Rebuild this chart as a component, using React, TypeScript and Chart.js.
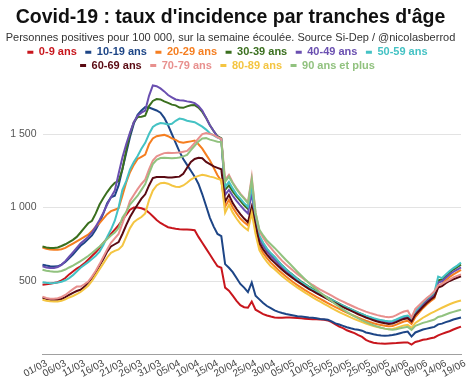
import { useEffect, useRef } from 'react';
import { Chart, registerables } from 'chart.js';

Chart.register(...registerables);

const DAYS = [
  '01/03','02/03','03/03','04/03','05/03','06/03','07/03','08/03','09/03','10/03',
  '11/03','12/03','13/03','14/03','15/03','16/03','17/03','18/03','19/03','20/03',
  '21/03','22/03','23/03','24/03','25/03','26/03','27/03','28/03','29/03','30/03','31/03',
  '01/04','02/04','03/04','04/04','05/04','06/04','07/04','08/04','09/04','10/04',
  '11/04','12/04','13/04','14/04','15/04','16/04','17/04','18/04','19/04','20/04',
  '21/04','22/04','23/04','24/04','25/04','26/04','27/04','28/04','29/04','30/04',
  '01/05','02/05','03/05','04/05','05/05','06/05','07/05','08/05','09/05','10/05',
  '11/05','12/05','13/05','14/05','15/05','16/05','17/05','18/05','19/05','20/05',
  '21/05','22/05','23/05','24/05','25/05','26/05','27/05','28/05','29/05','30/05','31/05',
  '01/06','02/06','03/06','04/06','05/06','06/06','07/06','08/06','09/06','10/06',
  '11/06','12/06','13/06','14/06','15/06','16/06','17/06','18/06','19/06',
];

const SERIES_NAMES = [
  '0-9 ans', '10-19 ans', '20-29 ans', '30-39 ans', '40-49 ans',
  '50-59 ans', '60-69 ans', '70-79 ans', '80-89 ans', '90 ans et plus',
];

const COLORS = [
  '#c8161d', '#1d4586', '#f57e20', '#3a6f1e', '#6a4fb0',
  '#44c2c4', '#5a0a12', '#e8908e', '#f4c542', '#91c27f',
];

const AGE_0_9 = [
  475, 478, 482, 487, 492, 505, 520, 545, 565, 585, 600,
  620, 645, 670, 695, 725, 760, 790, 820, 850, 880,
  915, 950, 985, 1000, 1000, 995, 985, 965, 940, 915,
  895, 880, 866, 860, 855, 852, 850, 850, 848, 845,
  800, 760, 720, 680, 640, 600, 590, 455, 434, 400,
  365, 335, 322, 318, 360, 305, 290, 275, 265, 258,
  252, 250, 250, 251, 252, 250, 248, 246, 244, 242,
  240, 240, 238, 236, 232, 220, 205, 190, 180, 165,
  155, 145, 132, 120, 100, 88, 80, 76, 74, 73,
  75, 77, 78, 80, 82, 82, 68, 85, 92, 100,
  104, 110, 116, 130, 140, 150, 158, 170, 180, 190,
];

const AGE_10_19 = [
  611, 605, 600, 598, 600, 612, 630, 655, 680, 710, 740,
  760, 785, 810, 850, 900, 960, 1030, 1070, 1080, 1150,
  1260, 1370, 1480, 1570, 1630, 1660, 1684, 1680, 1670, 1660,
  1645, 1610, 1560, 1500, 1440, 1380, 1330, 1290, 1250, 1210,
  1160, 1090, 1010, 930, 870, 820, 805, 615, 590, 560,
  520, 480, 455, 425, 490, 400, 375, 350, 330, 315,
  300, 290, 282, 275, 270, 265, 260, 258, 255, 252,
  250, 246, 242, 240, 236, 225, 212, 204, 195, 185,
  178, 172, 168, 162, 150, 145, 138, 133, 130, 128,
  129, 132, 138, 145, 152, 156, 122, 150, 160, 170,
  176, 182, 188, 205, 210, 220, 228, 238, 245, 252,
];

const AGE_20_29 = [
  728, 720, 714, 712, 713, 716, 725, 740, 755, 770, 785,
  800, 815, 840, 870, 895, 925, 955, 975, 985, 995,
  1080, 1170, 1240, 1290, 1330, 1345, 1360, 1430, 1470, 1485,
  1490, 1494, 1485, 1470, 1460, 1445, 1440, 1445, 1450, 1455,
  1430, 1400, 1360, 1320, 1270, 1220, 1180, 1005, 1052, 1000,
  960, 925, 900, 880, 984, 850, 735, 690, 655, 625,
  600, 575, 552, 530, 510, 490, 472, 455, 438, 422,
  407, 392, 378, 364, 350, 336, 323, 310, 297, 285,
  273, 262, 251, 240, 230, 221, 213, 206, 200, 195,
  192, 194, 203, 214, 224, 229, 208, 255, 285, 315,
  340, 362, 382, 470, 480, 505, 528, 545, 560, 575,
];

const AGE_30_39 = [
  735, 728, 725, 725, 728, 738, 750, 765, 780, 800, 830,
  862, 893, 910, 960, 1020, 1065, 1105, 1140, 1168, 1180,
  1260, 1390, 1500, 1580, 1615, 1618, 1625, 1690, 1725, 1738,
  1735, 1722, 1712, 1700, 1695, 1680, 1678, 1688, 1695, 1697,
  1680, 1650, 1610, 1560, 1520, 1485, 1470, 1120, 1150, 1110,
  1075, 1045, 1015, 990, 1130, 920, 800, 755, 715, 685,
  660, 632, 605, 580, 558, 537, 516, 497, 479, 462,
  446, 431, 416, 401, 387, 373, 359, 346, 333, 320,
  308, 296, 285, 274, 263, 253, 244, 236, 229, 223,
  219, 220, 230, 242, 252, 257, 235, 285, 315, 345,
  370, 390, 410, 505, 510, 535, 558, 578, 595, 611,
];

const AGE_40_49 = [
  600, 592, 588, 588, 595, 610, 635, 665, 695, 725, 755,
  778, 800, 830, 870, 915, 965, 1020, 1070, 1115, 1230,
  1340, 1430, 1510, 1580, 1625, 1645, 1660, 1760, 1830, 1825,
  1810, 1790, 1765, 1750, 1735, 1730, 1728, 1722, 1718, 1710,
  1690, 1660, 1610, 1560, 1520, 1480, 1465, 1086, 1120, 1080,
  1045, 1015, 985, 960, 1100, 900, 785, 740, 702, 672,
  645, 618, 592, 568, 546, 525, 505, 486, 468, 452,
  436, 421, 406, 392, 378, 364, 351, 338, 326, 314,
  302, 291, 280, 269, 259, 249, 240, 232, 225, 219,
  215, 217, 227, 239, 249, 254, 232, 280, 308, 337,
  362, 382, 402, 490, 498, 522, 545, 563, 578, 592,
];

const AGE_50_59 = [
  492, 488, 485, 487, 490, 495, 505, 520, 540, 565, 590,
  610, 628, 650, 672, 700, 745, 800, 850, 910, 1000,
  1120, 1180, 1260, 1310, 1350, 1400, 1440, 1500, 1548, 1565,
  1575, 1572, 1565, 1570, 1590, 1605, 1600, 1590, 1585, 1580,
  1565, 1550, 1530, 1505, 1490, 1475, 1465, 1140, 1175, 1130,
  1090, 1060, 1030, 1005, 1141, 920, 810, 760, 720, 690,
  665, 635, 605, 580, 557, 535, 513, 493, 475, 458,
  442, 427, 413, 398, 385, 372, 358, 345, 333, 320,
  308, 296, 285, 274, 264, 255, 247, 240, 234, 229,
  226, 228, 238, 250, 260, 265, 245, 295, 325, 355,
  380, 400, 420, 530, 520, 545, 568, 588, 605, 625,
];

const AGE_60_69 = [
  387, 378, 373, 372, 373, 378, 390, 405, 420, 432, 440,
  460, 490, 520, 560, 605, 650, 700, 735, 750, 765,
  820, 880, 935, 980, 1020, 1060, 1090, 1150, 1200, 1208,
  1208, 1208, 1205, 1205, 1208, 1210, 1230, 1270, 1310, 1330,
  1338, 1335, 1310, 1295, 1280, 1270, 1260, 1040, 1086, 1030,
  990, 955, 925, 900, 1005, 880, 760, 715, 680, 650,
  625, 600, 577, 555, 535, 515, 497, 480, 463, 447,
  432, 418, 404, 390, 376, 362, 349, 336, 323, 310,
  298, 286, 274, 263, 252, 242, 233, 225, 218, 212,
  208, 210, 220, 232, 242, 247, 225, 270, 297, 325,
  350, 372, 392, 455, 465, 485, 500, 512, 522, 532,
];

const AGE_70_79 = [
  394, 385, 380, 380, 383, 392, 405, 425, 445, 462, 462,
  478, 496, 530, 570, 615, 665, 715, 760, 790, 820,
  890, 965, 1045, 1085, 1125, 1160, 1190, 1260, 1320, 1348,
  1360, 1370, 1372, 1371, 1372, 1375, 1380, 1385, 1410, 1440,
  1470, 1500, 1507, 1500, 1494, 1478, 1466, 1188, 1222, 1170,
  1130, 1095, 1065, 1035, 1208, 965, 840, 795, 755, 725,
  695, 665, 637, 612, 590, 568, 547, 527, 508, 490,
  473, 457, 442, 428, 414, 400, 386, 372, 360, 347,
  335, 323, 312, 302, 292, 283, 275, 268, 262, 257,
  254, 256, 268, 282, 292, 298, 252, 310, 335, 360,
  385, 405, 430, 470, 480, 495, 510, 525, 535, 545,
];

const AGE_80_89 = [
  373, 366, 362, 360, 361, 365, 375, 388, 398, 410, 425,
  445, 468, 500, 540, 580, 620, 660, 692, 705, 715,
  740, 800, 860, 900, 920, 935, 960, 1050, 1115, 1150,
  1165, 1168, 1162, 1150, 1142, 1140, 1150, 1168, 1190, 1205,
  1215, 1222, 1218, 1210, 1205, 1195, 1188, 965, 1018, 965,
  925, 890, 865, 845, 964, 820, 710, 665, 630, 600,
  580, 556, 533, 512, 492, 473, 455, 438, 421, 405,
  389, 374, 359, 344, 330, 316, 302, 289, 276, 264,
  252, 241, 230, 220, 211, 202, 194, 187, 181, 176,
  172, 173, 180, 190, 198, 202, 182, 215, 232, 250,
  265, 280, 292, 305, 318, 330, 342, 352, 360, 367,
];

const AGE_90_PLUS = [
  577, 570, 566, 563, 563, 568, 578, 592, 605, 620, 635,
  652, 670, 690, 712, 735, 760, 785, 810, 830, 860,
  930, 970, 1020, 1050, 1080, 1120, 1160, 1230, 1295, 1325,
  1337, 1338, 1337, 1335, 1336, 1340, 1348, 1358, 1390, 1420,
  1450, 1470, 1472, 1462, 1455, 1448, 1445, 1175, 1210, 1165,
  1125, 1090, 1060, 1030, 1190, 965, 850, 810, 775, 750,
  725, 698, 670, 643, 617, 590, 563, 537, 512, 488,
  465, 443, 422, 402, 382, 362, 343, 325, 307, 290,
  274, 259, 245, 232, 220, 209, 199, 190, 182, 176,
  171, 169, 172, 178, 184, 188, 168, 195, 205, 215,
  222, 230, 238, 255, 262, 272, 282, 290, 298, 305,
];

const SERIES = [
  AGE_0_9, AGE_10_19, AGE_20_29, AGE_30_39, AGE_40_49,
  AGE_50_59, AGE_60_69, AGE_70_79, AGE_80_89, AGE_90_PLUS,
];

const Y_TICKS = [500, 1000, 1500];
const Y_MAX = 1860;

const TITLE = "Covid-19 : taux d'incidence par tranches d'âge";
const SUBTITLE = 'Personnes positives pour 100 000, sur la semaine écoulée. Source Si-Dep / @nicolasberrod';

function formatThousands(v: number): string {
  if (v >= 1000) {
    const th = Math.floor(v / 1000);
    const rest = String(v % 1000).padStart(3, '0');
    return th + ' ' + rest;
  }
  return String(v);
}

export default function App() {
  const ref = useRef<HTMLCanvasElement>(null);

  useEffect(() => {
    if (!ref.current) return;
    Chart.defaults.font.family = "'Liberation Sans', Arial, sans-serif";
    const chart = new Chart(ref.current, {
      type: 'line',
      data: {
        labels: DAYS,
        datasets: SERIES.map((values, i) => ({
          label: SERIES_NAMES[i],
          data: values,
          borderColor: COLORS[i],
          backgroundColor: COLORS[i],
          borderWidth: 2,
          pointRadius: 0,
          pointHoverRadius: 0,
          tension: 0,
          fill: false,
          order: 10 - i,
        })),
      },
      options: {
        responsive: false,
        animation: false,
        layout: { padding: { left: 0, right: 13, top: 0, bottom: 0 } },
        plugins: {
          title: {
            display: true,
            text: TITLE,
            color: '#111',
            font: { size: 19.5, weight: 'bold' },
            padding: { top: 6, bottom: 0 },
          },
          subtitle: {
            display: true,
            text: SUBTITLE,
            color: '#333',
            font: { size: 11, weight: 'normal' },
            padding: { top: 1.5, bottom: 0.2 },
          },
          legend: {
            display: true,
            position: 'top',
            labels: {
              boxWidth: 6,
              boxHeight: 3,
              padding: 2.4,
              font: { size: 11, weight: 'bold' },
              generateLabels: () =>
                SERIES_NAMES.map((name, i) => ({
                  text: name + '  ',
                  fillStyle: COLORS[i],
                  strokeStyle: COLORS[i],
                  lineWidth: 0,
                  fontColor: COLORS[i],
                  hidden: false,
                  datasetIndex: i,
                })),
            },
          },
          tooltip: { enabled: false },
        },
        scales: {
          x: {
            grid: { display: false, drawTicks: false },
            border: { display: true, color: '#a0a0a0', width: 1 },
            ticks: {
              autoSkip: false,
              maxRotation: 28,
              minRotation: 28,
              padding: 3,
              labelOffset: 4,
              color: '#444',
              font: { size: 10 },
              callback: (_v: any, i: number) => (i % 5 === 0 ? DAYS[i] : null),
            },
            afterFit: (s: any) => {
              s.height = 27.5;
            },
          },
          y: {
            min: 0,
            max: Y_MAX,
            grid: { color: '#e3e3e3', drawTicks: false },
            border: { display: false },
            ticks: {
              padding: 6,
              color: '#555',
              font: { size: 10.5 },
              callback: (v: any) => formatThousands(Number(v)),
            },
            afterBuildTicks: (s: any) => {
              s.ticks = Y_TICKS.map((v) => ({ value: v }));
            },
            afterFit: (s: any) => {
              s.width = 42.5;
            },
          },
        },
      },
    });
    return () => chart.destroy();
  }, []);

  return (
    <div style={{ position: 'fixed', left: 0, top: 0, width: 474, height: 382, background: '#fff' }}>
      <canvas ref={ref} width={474} height={382} style={{ display: 'block' }} />
    </div>
  );
}
